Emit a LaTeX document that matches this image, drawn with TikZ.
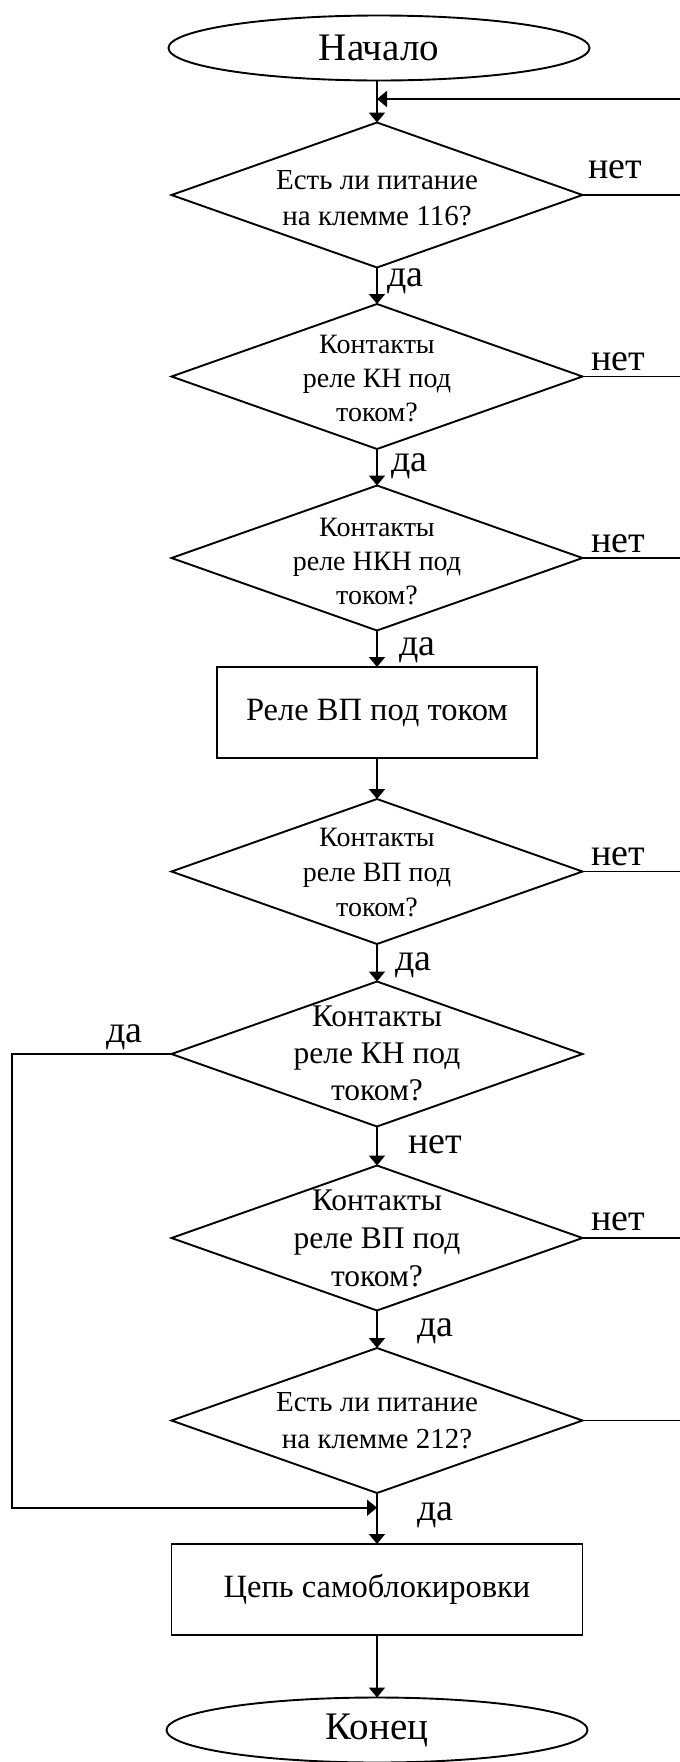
\documentclass[tikz,border=0pt]{standalone}
\usepackage{fontspec}
\setmainfont{Liberation Serif}
\usetikzlibrary{shapes.geometric,arrows.meta}
\begin{document}
\begin{tikzpicture}[x=1pt,y=-1pt,
  line width=1.9pt,
  every node/.style={inner sep=0pt, outer sep=0pt},
  dec/.style={draw, diamond, minimum width=411pt, minimum height=145pt},
  proc/.style={draw, rectangle, minimum width=320pt, minimum height=91pt, font=\fontsize{32.5}{38}\selectfont},
  proc2/.style={proc, minimum width=411pt},
  term/.style={draw, ellipse, minimum width=421pt, minimum height=65pt, font=\fontsize{39}{44}\selectfont},
  txt/.style={anchor=base, font=\fontsize{28}{34}\selectfont},
  ptxt/.style={anchor=base, font=\fontsize{29}{34}\selectfont},
  bigtxt/.style={anchor=base, font=\fontsize{31.5}{38}\selectfont},
  lbl/.style={anchor=base west, font=\fontsize{38}{42}\selectfont},
  arr/.style={-{Triangle[width=16pt,length=10pt]}},
]
\useasboundingbox (0,0) rectangle (680,1762);
\clip (0,0) rectangle (680,1762);

% shapes
\node[term] (start) at (379,48) {Начало};
\node[dec] (d1) at (377,195) {};
\node[dec] (d2) at (377,376.5) {};
\node[dec] (d3) at (377,558) {};
\node[proc] (b1) at (377,712.5) {Реле ВП под током};
\node[dec] (d4) at (377,871.5) {};
\node[dec] (d5) at (377,1054) {};
\node[dec] (d6) at (377,1238) {};
\node[dec] (d7) at (377,1420.5) {};
\node[proc2] (b2) at (377,1589.5) {Цепь самоблокировки};
\node[term] (end) at (377,1730) {Конец};

% texts in diamonds
\node[ptxt] (d1a) at (377,189) {Есть ли питание};
\node[ptxt] (d1b) at (377,225) {на клемме 116?};
\node[txt] (d2a) at (377,353) {Контакты};
\node[txt] (d2b) at (377,387) {реле КН под};
\node[txt] (d2c) at (377,421) {током?};
\node[txt] (d3a) at (377,536) {Контакты};
\node[txt] (d3b) at (377,570) {реле НКН под};
\node[txt] (d3c) at (377,604) {током?};
\node[txt] (d4a) at (377,846) {Контакты};
\node[txt] (d4b) at (377,881) {реле ВП под};
\node[txt] (d4c) at (377,916) {током?};
\node[bigtxt] (d5a) at (377,1026) {Контакты};
\node[bigtxt] (d5b) at (377,1063) {реле КН под};
\node[bigtxt] (d5c) at (377,1100) {током?};
\node[bigtxt] (d6a) at (377,1210) {Контакты};
\node[bigtxt] (d6b) at (377,1248) {реле ВП под};
\node[bigtxt] (d6c) at (377,1286) {током?};
\node[ptxt] (d7a) at (377,1411) {Есть ли питание};
\node[ptxt] (d7b) at (377,1448) {на клемме 212?};

% helper coordinates
\coordinate (re) at (680,99);
\coordinate (lx) at (11.7,0);
\coordinate (mj) at ([yshift=-14.7pt]d7.south);

% main flow
\draw[arr] (d1.north |- start.south) -- (d1.north);
\draw[arr] (re) -- (d1.north |- re);
\draw[arr] (d1.south) -- (d2.north);
\draw[arr] (d2.south) -- (d3.north);
\draw[arr] (d3.south) -- (b1.north);
\draw[arr] (b1.south) -- (d4.north);
\draw[arr] (d4.south) -- (d5.north);
\draw[arr] (d5.south) -- (d6.north);
\draw[arr] (d6.south) -- (d7.north);
\draw[arr] (d7.south) -- (b2.north);
\draw[arr] (b2.south) -- (end.north);

% right exits
\draw (d1.east) -- (d1.east -| re);
\draw (d2.east) -- (d2.east -| re);
\draw (d3.east) -- (d3.east -| re);
\draw (d4.east) -- (d4.east -| re);
\draw (d6.east) -- (d6.east -| re);
\draw (d7.east) -- (d7.east -| re);

% left bypass
\draw[arr] (d5.west) -- (d5.west -| lx) |- (mj);

% labels
\node[lbl] (n1) at (588,178) {нет};
\node[lbl] (n2) at (591,370) {нет};
\node[lbl] (n3) at (591,552) {нет};
\node[lbl] (n4) at (591,865) {нет};
\node[lbl] (n6) at (591,1230) {нет};
\node[lbl] (n5) at (408,1153) {нет};
\node[lbl] (y1) at (387,286) {да};
\node[lbl] (y2) at (391,471) {да};
\node[lbl] (y3) at (399,655) {да};
\node[lbl] (y4) at (395,970) {да};
\node[lbl] (y5) at (106,1042) {да};
\node[lbl] (y6) at (417,1336) {да};
\node[lbl] (y7) at (417,1520) {да};
\end{tikzpicture}
\end{document}
